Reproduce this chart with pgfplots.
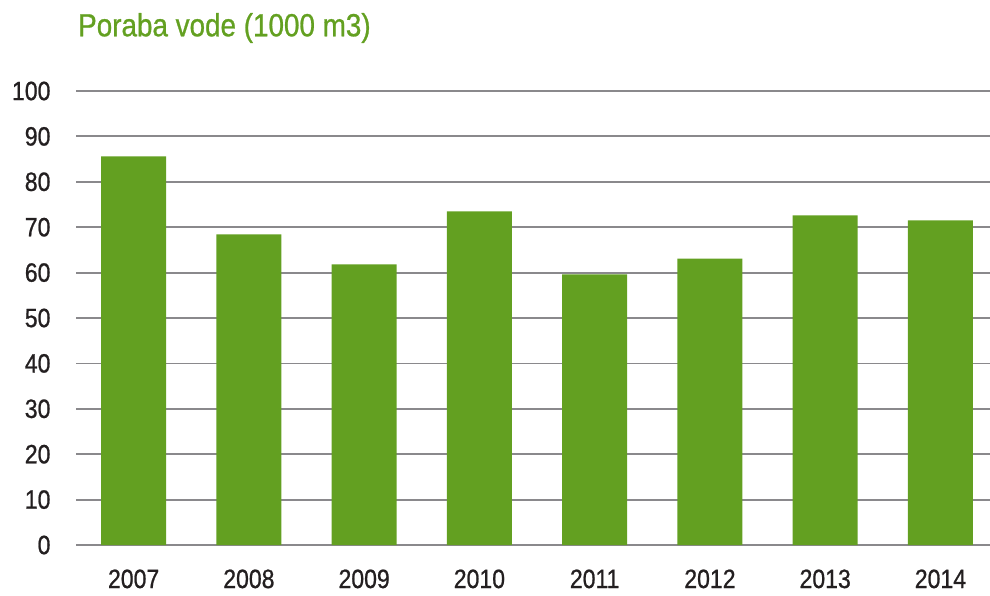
\documentclass[border=0pt]{standalone}
\usepackage{fontspec}
\setmainfont{Liberation Sans}[FakeStretch=0.87, FakeBold=0.8]
\usepackage{pgfplots}
\pgfplotsset{compat=1.18}
\definecolor{bargreen}{HTML}{63A021}
\definecolor{gridgray}{HTML}{8A898C}
\definecolor{txt}{HTML}{231F20}
\begin{document}
\begin{tikzpicture}
\path[use as bounding box] (0,0) rectangle (990pt,595pt);
\begin{axis}[
  at={(76pt,50pt)}, anchor=south west,
  scale only axis, width=914pt, height=454pt,
  xmin=-0.5, xmax=7.43, ymin=0, ymax=100,
  ytick={0,10,...,100},
  xtick={0,...,7},
  xticklabels={2007,2008,2009,2010,2011,2012,2013,2014},
  ymajorgrids, grid style={gridgray, line width=1.8pt},
  axis line style={draw=none},
  major tick length=0pt,
  /pgf/number format/assume math mode=true,
  tick label style={font=\fontsize{26.5}{26.5}\selectfont, text=txt},
  yticklabel style={anchor=east, xshift=-22pt},
  xticklabel style={anchor=north, yshift=-21pt},
  clip=false,
]
\addplot[ybar, bar width=65pt, fill=bargreen, draw=none] coordinates {
(0,85.6) (1,68.4) (2,61.8) (3,73.5) (4,59.6) (5,63.1) (6,72.6) (7,71.5)};
\end{axis}
\node[anchor=west, text=bargreen, font=\fontsize{32}{32}\selectfont, inner sep=0pt] at (78pt,567pt) {Poraba vode (1000 m3)};
\end{tikzpicture}
\end{document}
